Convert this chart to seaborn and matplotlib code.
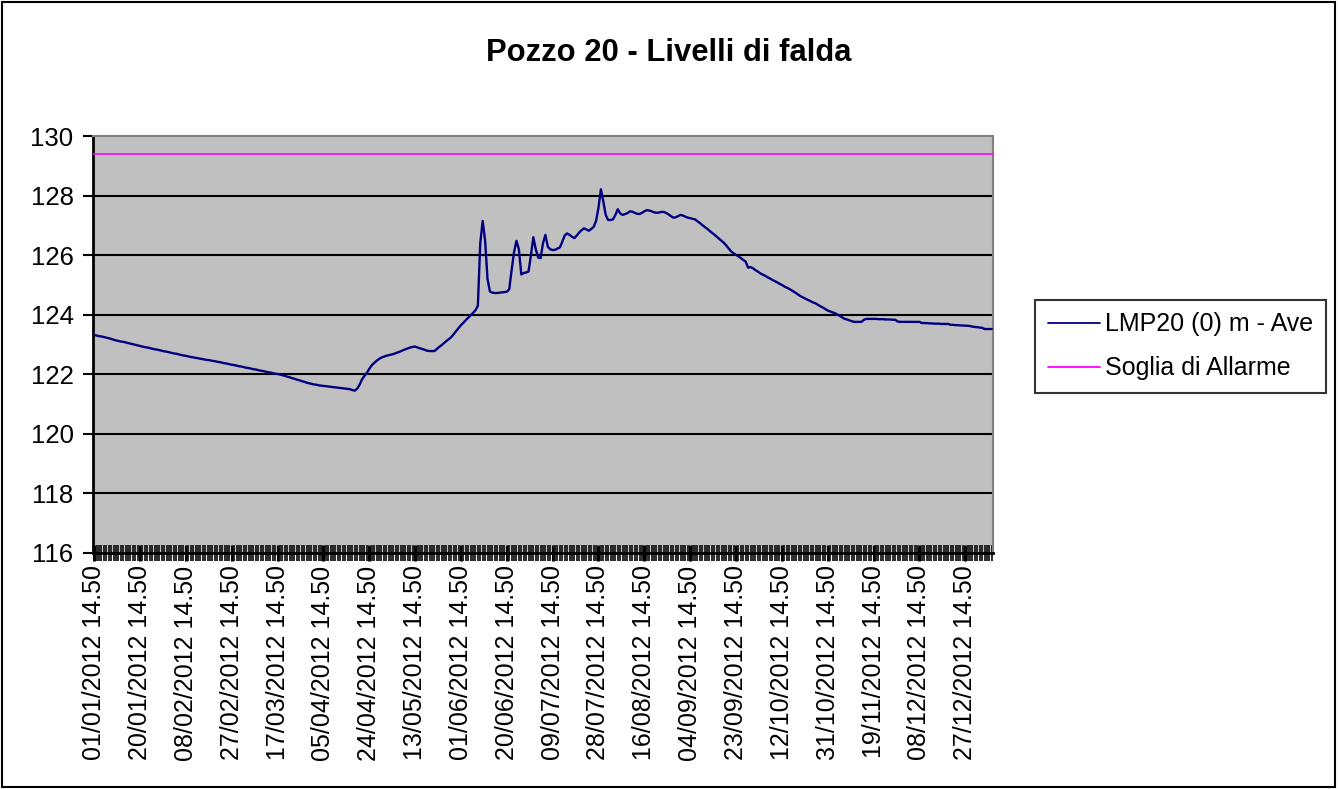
"""
Pozzo 20 - livelli di falda 2012, Excel-style line chart redrawn with seaborn.
"""
import numpy as np
import pandas as pd
import matplotlib
matplotlib.use("Agg")
import matplotlib.pyplot as plt
from matplotlib.patches import Rectangle
import seaborn as sns

# daily groundwater level (m), 01/01/2012 -> 07/01/2013, one reading per day at 14.50
LEVEL = [
    123.32, 123.30, 123.28, 123.27, 123.25, 123.23, 123.21, 123.19, 123.16, 123.14,
    123.12, 123.10, 123.09, 123.07, 123.05, 123.03, 123.01, 122.99, 122.97, 122.95,
    122.93, 122.91, 122.90, 122.88, 122.86, 122.84, 122.83, 122.81, 122.79, 122.77,
    122.76, 122.74, 122.72, 122.70, 122.69, 122.67, 122.65, 122.63, 122.62, 122.60,
    122.58, 122.57, 122.55, 122.54, 122.52, 122.51, 122.49, 122.48, 122.47, 122.45,
    122.44, 122.42, 122.41, 122.39, 122.37, 122.36, 122.34, 122.32, 122.31, 122.29,
    122.27, 122.26, 122.24, 122.22, 122.21, 122.19, 122.17, 122.16, 122.14, 122.12,
    122.11, 122.09, 122.07, 122.06, 122.04, 122.02, 122.01, 121.99, 121.97, 121.95,
    121.92, 121.90, 121.87, 121.85, 121.82, 121.80, 121.77, 121.75, 121.72, 121.70,
    121.68, 121.66, 121.65, 121.63, 121.62, 121.61, 121.60, 121.59, 121.58, 121.57,
    121.56, 121.55, 121.54, 121.53, 121.52, 121.51, 121.50, 121.47, 121.45, 121.52,
    121.65, 121.83, 121.95, 122.05, 122.18, 122.30, 122.38, 122.45, 122.51, 122.56,
    122.59, 122.62, 122.64, 122.66, 122.68, 122.71, 122.74, 122.77, 122.81, 122.84,
    122.87, 122.90, 122.92, 122.93, 122.90, 122.87, 122.85, 122.82, 122.79, 122.78,
    122.78, 122.78, 122.85, 122.92, 122.98, 123.05, 123.12, 123.18, 123.25, 123.35,
    123.45, 123.55, 123.65, 123.73, 123.82, 123.90, 123.98, 124.06, 124.15, 124.30,
    126.40, 127.15, 126.50, 125.20, 124.78, 124.74, 124.73, 124.73, 124.74, 124.75,
    124.76, 124.77, 124.85, 125.50, 126.10, 126.48, 126.20, 125.35, 125.40, 125.42,
    125.45, 126.00, 126.60, 126.20, 125.92, 125.90, 126.40, 126.68, 126.28, 126.20,
    126.17, 126.18, 126.22, 126.26, 126.45, 126.66, 126.73, 126.68, 126.62, 126.57,
    126.66, 126.76, 126.84, 126.90, 126.86, 126.82, 126.88, 126.95, 127.15, 127.60,
    128.21, 127.80, 127.35, 127.18, 127.18, 127.20, 127.35, 127.54, 127.40, 127.35,
    127.38, 127.41, 127.47, 127.46, 127.42, 127.39, 127.38, 127.42, 127.47, 127.51,
    127.50, 127.47, 127.44, 127.42, 127.43, 127.45, 127.45, 127.42, 127.37, 127.31,
    127.26, 127.27, 127.31, 127.35, 127.33, 127.29, 127.26, 127.24, 127.22, 127.20,
    127.14, 127.08, 127.01, 126.95, 126.89, 126.82, 126.75, 126.69, 126.62, 126.55,
    126.48, 126.41, 126.32, 126.22, 126.12, 126.06, 126.01, 125.96, 125.90, 125.84,
    125.78, 125.58, 125.60, 125.56, 125.50, 125.45, 125.39, 125.35, 125.31, 125.26,
    125.22, 125.17, 125.13, 125.09, 125.04, 125.00, 124.95, 124.91, 124.87, 124.82,
    124.77, 124.72, 124.66, 124.61, 124.57, 124.53, 124.49, 124.45, 124.41, 124.38,
    124.33, 124.28, 124.24, 124.19, 124.14, 124.11, 124.08, 124.05, 124.01, 123.96,
    123.91, 123.86, 123.84, 123.81, 123.78, 123.76, 123.76, 123.76, 123.76, 123.83,
    123.86, 123.86, 123.86, 123.86, 123.86, 123.85, 123.85, 123.85, 123.84, 123.84,
    123.84, 123.83, 123.83, 123.77, 123.76, 123.76, 123.76, 123.76, 123.76, 123.76,
    123.76, 123.76, 123.76, 123.72, 123.72, 123.72, 123.71, 123.71, 123.70, 123.70,
    123.70, 123.69, 123.69, 123.69, 123.69, 123.66, 123.66, 123.65, 123.65, 123.64,
    123.64, 123.63, 123.63, 123.62, 123.60, 123.59, 123.58, 123.57, 123.56, 123.52,
    123.52, 123.52, 123.52,
]
ALARM_LEVEL = 129.4

X_LABELS = [
    "01/01/2012 14.50", "20/01/2012 14.50", "08/02/2012 14.50", "27/02/2012 14.50",
    "17/03/2012 14.50", "05/04/2012 14.50", "24/04/2012 14.50", "13/05/2012 14.50",
    "01/06/2012 14.50", "20/06/2012 14.50", "09/07/2012 14.50", "28/07/2012 14.50",
    "16/08/2012 14.50", "04/09/2012 14.50", "23/09/2012 14.50", "12/10/2012 14.50",
    "31/10/2012 14.50", "19/11/2012 14.50", "08/12/2012 14.50", "27/12/2012 14.50",
]
LABEL_STEP = 19
Y_TICKS = [116, 118, 120, 122, 124, 126, 128, 130]

TITLE = "Pozzo 20 - Livelli di falda"
SERIES_NAME = "LMP20 (0) m - Ave"
ALARM_NAME = "Soglia di Allarme"

sns.set_theme(style="white")
plt.rcParams["font.family"] = ["Liberation Sans", "DejaVu Sans"]
plt.rcParams.update({"text.color": "black", "xtick.color": "black",
                     "ytick.color": "black", "axes.labelcolor": "black"})

df = pd.DataFrame({"day": np.arange(len(LEVEL)), "level": LEVEL})
n = len(df)

fig = plt.figure(figsize=(13.38, 7.89), dpi=100)
ax = fig.add_axes([93 / 1338, 1 - 553 / 789, 900 / 1338, 417 / 789])
ax.set_facecolor("#C0C0C0")

sns.lineplot(data=df, x="day", y="level", ax=ax, color="#000080", lw=1.7,
             label=SERIES_NAME, zorder=4)
ax.axhline(ALARM_LEVEL, color="#FF00FF", lw=1.2, label=ALARM_NAME, zorder=3)

ax.set_xlim(-0.5, n - 0.5)
ax.set_ylim(Y_TICKS[0], Y_TICKS[-1])
ax.set_yticks(Y_TICKS)
ax.set_yticklabels([str(t) for t in Y_TICKS], fontsize=18.5)
ax.set_xticks(np.arange(0, n, LABEL_STEP)[:len(X_LABELS)])
ax.set_xticklabels(X_LABELS, rotation=90, fontsize=18)
ax.set_xticks(np.arange(n), minor=True)
ax.set_xlabel("")
ax.set_ylabel("")

ax.yaxis.grid(True, color="black", lw=1.5)
ax.get_ygridlines()[-1].set_visible(False)
ax.get_ygridlines()[0].set_visible(False)
ax.set_axisbelow(True)

ax.tick_params(axis="y", which="major", direction="out", length=7, width=1.5,
               color="black", pad=7, left=True)
ax.tick_params(axis="x", which="major", direction="inout", length=12, width=2.2,
               color="black", pad=3, bottom=True)
ax.tick_params(axis="x", which="minor", direction="inout", length=12, width=1.3,
               color="#1a1a1a", bottom=True)

for side in ["left", "bottom"]:
    ax.spines[side].set_color("black")
    ax.spines[side].set_linewidth(2)
for side in ["top", "right"]:
    ax.spines[side].set_color("#808080")
    ax.spines[side].set_linewidth(1.5)

leg = ax.legend(loc="upper left", bbox_to_anchor=(1035 / 1338, 1 - 300 / 789),
                bbox_transform=fig.transFigure, fontsize=18, frameon=True,
                fancybox=False, edgecolor="black", handlelength=2.1,
                handletextpad=0.2, borderpad=0.5, labelspacing=0.8,
                borderaxespad=0)
leg.get_frame().set_linewidth(1.5)
for line in leg.get_lines():
    line.set_linewidth(1.3)

fig.text(0.5, 1 - 53 / 789, TITLE, ha="center", va="center",
         fontsize=22.3, fontweight="bold")

fig.patches.append(Rectangle((1.5 / 1338, 2 / 789), 1333 / 1338, 785 / 789,
                             transform=fig.transFigure, fill=False,
                             ec="black", lw=1.5))

fig.savefig("out.png", dpi=100)
plt.close(fig)
